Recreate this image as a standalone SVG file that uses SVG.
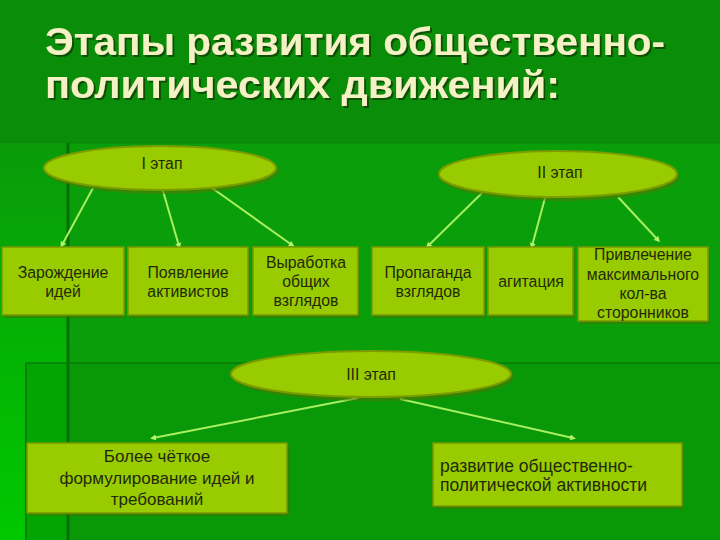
<svg xmlns="http://www.w3.org/2000/svg" width="720" height="540" viewBox="0 0 720 540">
<defs>
<linearGradient id="leftg" x1="0" y1="0" x2="0" y2="1">
<stop offset="0" stop-color="#0a9a0a"/>
<stop offset="0.45" stop-color="#04b004"/>
<stop offset="1" stop-color="#00c800"/>
</linearGradient>
<filter id="tsh" x="-5%" y="-20%" width="110%" height="140%">
<feDropShadow dx="2" dy="2" stdDeviation="0.6" flood-color="#0b3a05" flood-opacity="0.75"/>
</filter>
<marker id="dot" viewBox="0 0 6 6" refX="3" refY="3" markerWidth="3" markerHeight="3" orient="auto">
<path d="M0,0 L6,3 L0,6 z" fill="#b4f46a"/>
</marker>
<style>
.title{font-family:"Liberation Sans",Arial,sans-serif;font-weight:bold;font-size:38px;fill:#f4f2c4;filter:url(#tsh)}
.ell{fill:#99cc00;stroke:#7d9c00;stroke-width:2}
.eshadow{fill:#557700;opacity:0.55}
.box{fill:#99cc00;stroke:#7a9800;stroke-width:1.5}
.bshadow{fill:#4f7000;opacity:0.55}
.t{font-family:"Liberation Sans",Arial,sans-serif;font-size:15.8px;fill:#1f2a08;text-anchor:middle}
.tl{font-family:"Liberation Sans",Arial,sans-serif;font-size:17.5px;fill:#1f2a08}
.tb{font-family:"Liberation Sans",Arial,sans-serif;font-size:17px;fill:#1f2a08;text-anchor:middle}
.c{stroke:#a8f060;stroke-width:2;fill:none;marker-end:url(#dot)}
</style>
</defs>
<g id="background">
<rect x="0" y="0" width="720" height="540" fill="#0a9a0a"/>
<rect x="0" y="0" width="720" height="143" fill="#0a8e0a"/>
<rect x="70" y="143" width="650" height="220" fill="#0a9e0a"/>
<rect x="70" y="363" width="650" height="177" fill="#089808"/>
<rect x="0" y="143" width="68" height="397" fill="url(#leftg)"/>
<rect x="26" y="363" width="42" height="177" fill="#03a503"/>
<line x1="68" y1="143" x2="68" y2="540" stroke="#066e06" stroke-width="3"/>
<line x1="26" y1="363" x2="26" y2="540" stroke="#078007" stroke-width="2"/>
<line x1="26" y1="363" x2="720" y2="363" stroke="#077a07" stroke-width="2" opacity="0.7"/>
<line x1="68" y1="143" x2="720" y2="143" stroke="#077a07" stroke-width="1.5" opacity="0.4"/>
</g>
<g id="title">
<text class="title" x="45" y="55" textLength="620" lengthAdjust="spacingAndGlyphs">Этапы развития общественно-</text>
<text class="title" x="45" y="98" textLength="515" lengthAdjust="spacingAndGlyphs">политических движений:</text>
</g>
<g id="connectors">
<line class="c" x1="93" y1="188" x2="62" y2="245"/>
<line class="c" x1="163" y1="191" x2="179" y2="246"/>
<line class="c" x1="212" y1="188" x2="292" y2="245"/>
<line class="c" x1="482" y1="193" x2="428" y2="246"/>
<line class="c" x1="545" y1="198" x2="532" y2="246"/>
<line class="c" x1="618" y1="197" x2="658" y2="240"/>
<line class="c" x1="358" y1="398" x2="153" y2="438"/>
<line class="c" x1="400" y1="399" x2="573" y2="438"/>
</g>
<g id="stage1">
<ellipse class="eshadow" cx="162" cy="171" rx="117" ry="23"/>
<ellipse class="ell" cx="160" cy="168" rx="116" ry="22"/>
<text class="t" x="162" y="169">I этап</text>
</g>
<g id="stage2">
<ellipse class="eshadow" cx="560" cy="177" rx="120" ry="24"/>
<ellipse class="ell" cx="558" cy="174" rx="119" ry="23"/>
<text class="t" x="560" y="178">II этап</text>
</g>
<g id="stage3">
<ellipse class="eshadow" cx="373" cy="377" rx="141" ry="24"/>
<ellipse class="ell" cx="371" cy="374" rx="140" ry="23"/>
<text class="t" x="371" y="380">III этап</text>
</g>
<g id="n1">
<rect class="bshadow" x="4" y="250" width="122" height="68"/>
<rect class="box" x="2" y="247" width="122" height="68"/>
<text class="t" x="63" y="278">Зарождение</text>
<text class="t" x="63" y="297">идей</text>
</g>
<g id="n2">
<rect class="bshadow" x="130" y="250" width="120" height="68"/>
<rect class="box" x="128" y="247" width="120" height="68"/>
<text class="t" x="188" y="278">Появление</text>
<text class="t" x="188" y="297">активистов</text>
</g>
<g id="n3">
<rect class="bshadow" x="255" y="250" width="105" height="68"/>
<rect class="box" x="253" y="247" width="105" height="68"/>
<text class="t" x="306" y="268">Выработка</text>
<text class="t" x="306" y="287">общих</text>
<text class="t" x="306" y="306">взглядов</text>
</g>
<g id="n4">
<rect class="bshadow" x="374" y="250" width="112" height="68"/>
<rect class="box" x="372" y="247" width="112" height="68"/>
<text class="t" x="428" y="278">Пропаганда</text>
<text class="t" x="428" y="297">взглядов</text>
</g>
<g id="n5">
<rect class="bshadow" x="490" y="250" width="85" height="68"/>
<rect class="box" x="488" y="247" width="85" height="68"/>
<text class="t" x="531" y="287">агитация</text>
</g>
<g id="n6">
<rect class="bshadow" x="580" y="250" width="130" height="74"/>
<rect class="box" x="578" y="247" width="130" height="74"/>
<text class="t" x="643" y="260">Привлечение</text>
<text class="t" x="643" y="280">максимального</text>
<text class="t" x="643" y="299">кол-ва</text>
<text class="t" x="643" y="318">сторонников</text>
</g>
<g id="n7">
<rect class="bshadow" x="29" y="446" width="260" height="70"/>
<rect class="box" x="27" y="443" width="260" height="70"/>
<text class="tb" x="157" y="462">Более чёткое</text>
<text class="tb" x="157" y="484">формулирование идей и</text>
<text class="tb" x="157" y="505">требований</text>
</g>
<g id="n8">
<rect class="bshadow" x="435" y="446" width="249" height="63"/>
<rect class="box" x="433" y="443" width="249" height="63"/>
<text class="tl" x="440" y="472">развитие общественно-</text>
<text class="tl" x="440" y="491">политической активности</text>
</g>
</svg>
